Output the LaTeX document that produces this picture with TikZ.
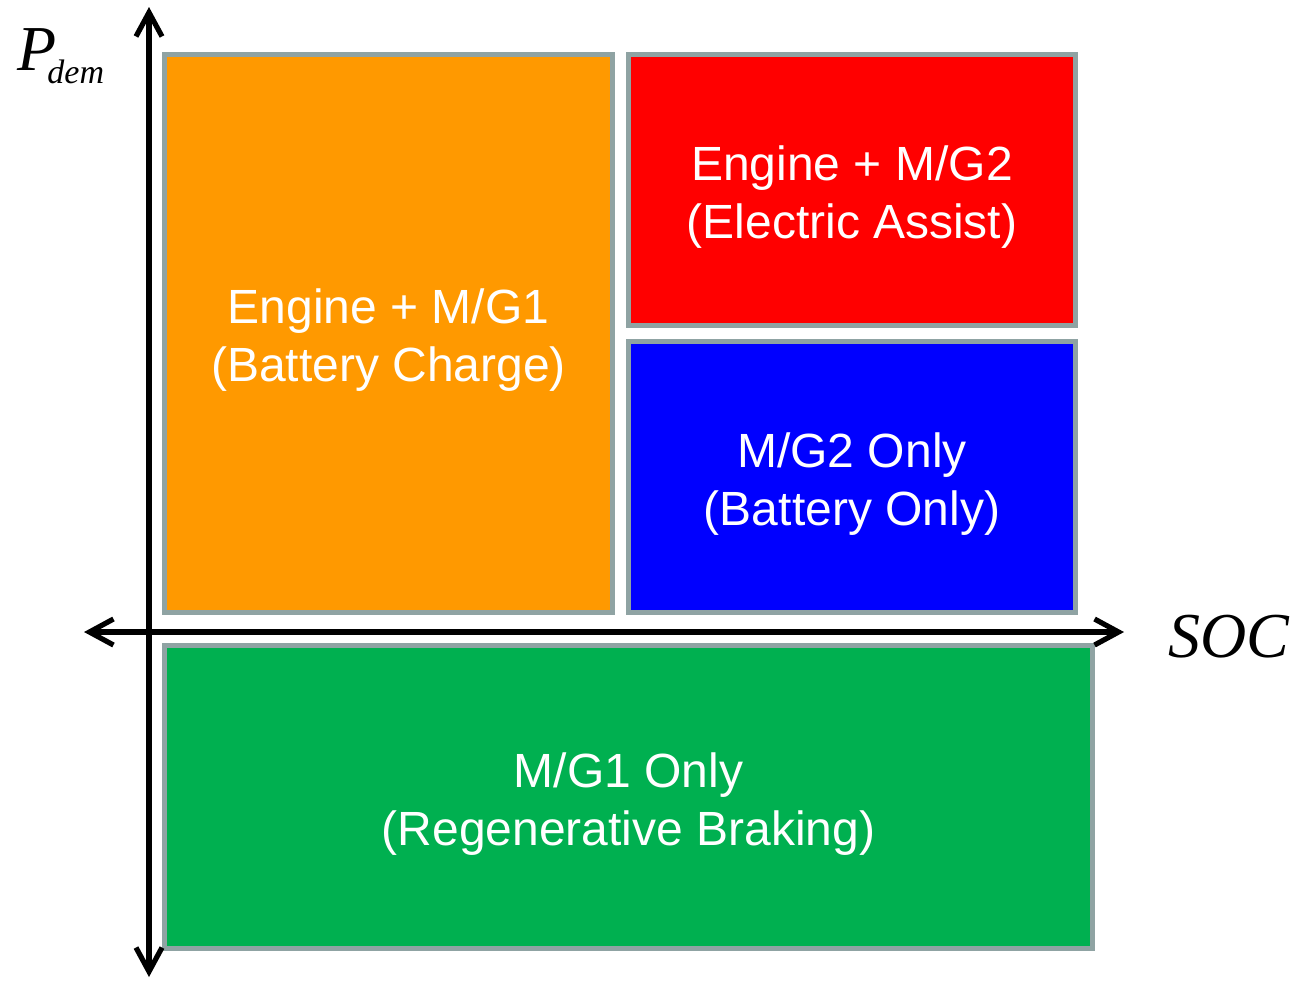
\documentclass[tikz,border=0pt]{standalone}
\usepackage{fontspec}
\setmainfont{Liberation Sans}
\newfontfamily\timesfont{Liberation Serif}
\usetikzlibrary{arrows.meta}

\definecolor{chargeorange}{RGB}{255,153,0}
\definecolor{assistred}{RGB}{255,0,0}
\definecolor{batteryblue}{RGB}{0,0,255}
\definecolor{regengreen}{RGB}{0,176,80}
\definecolor{rimgray}{RGB}{143,163,163}

\begin{document}
\begin{tikzpicture}[
        % one unit = one pixel of the reference
        x=0.5pt, y=-0.5pt,
        % Node style: mode regions and their captions
        region/.style={
                rectangle, draw=rimgray, line width=2.5pt, inner sep=0pt
            },
        modetext/.style={
                text=white, align=center, inner sep=0pt,
                font=\fontsize{24}{29}\selectfont
            },
        % Axis style
        axis/.style={
                line width=2.6pt,
                {Straight Barb[length=12pt, width=13pt]}-{Straight Barb[length=12pt, width=13pt]}
            },
        axislabel/.style={font=\timesfont\itshape\fontsize{32}{32}\selectfont}
    ]
    \useasboundingbox (0,0) rectangle (1293,982);

    %% ---- Mode regions ----
    \node[region, fill=chargeorange, minimum width=224pt, minimum height=279pt]
        (charge) at (388.5,333.5) {};
    \node[region, fill=assistred, minimum width=223.5pt, minimum height=135.5pt]
        (assist) at (852,190) {};
    \node[region, fill=batteryblue, minimum width=223.5pt, minimum height=135.5pt]
        (battery) at (852,477) {};
    \node[region, fill=regengreen, minimum width=464pt, minimum height=151.5pt]
        (regen) at (628.5,797) {};

    %% ---- Captions ----
    \node[modetext] (chargetext) at ([yshift=-3.5pt] charge.center)
        {Engine + M/G1\\(Battery Charge)};
    \node[modetext] (assisttext) at ([yshift=-3.5pt] assist.center)
        {Engine + M/G2\\(Electric Assist)};
    \node[modetext] (batterytext) at ([yshift=-3.5pt] battery.center)
        {M/G2 Only\\(Battery Only)};
    \node[modetext] (regentext) at ([yshift=-3.5pt] regen.center)
        {M/G1 Only\\(Regenerative Braking)};

    %% ---- Axes ----
    \coordinate (ptop) at (149,7);
    \coordinate (pbot) at (149,977);
    \coordinate (sleft) at (84,632);
    \coordinate (sright) at (1124,632);
    \draw[axis] (pbot) -- (ptop);
    \draw[axis] (sleft) -- (sright);

    %% ---- Axis labels ----
    \node[axislabel, anchor=base west, inner sep=0pt] (pdem) at (17,70)
        {P\kern-4.5pt\raisebox{-6.5pt}{\fontsize{17}{17}\selectfont dem}};
    \node[axislabel, anchor=base west, inner sep=0pt] (soc) at (1168,657) {SOC};

\end{tikzpicture}
\end{document}
